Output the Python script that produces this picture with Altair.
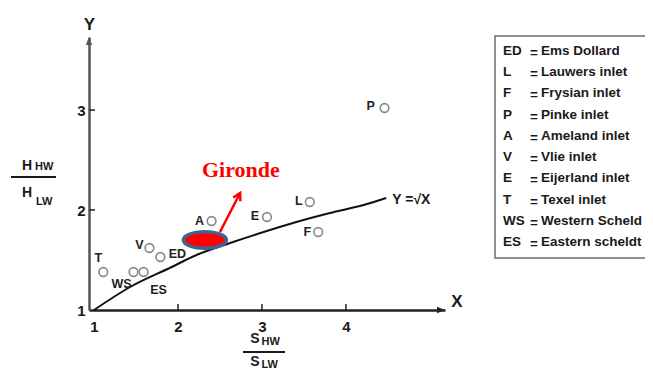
import altair as alt
import pandas as pd

# ---------------- data ----------------
inlet_code = ["T", "WS", "ES", "V", "ED", "A", "E", "L", "F", "P"]
inlet_s_ratio = [1.11, 1.47, 1.59, 1.66, 1.79, 2.40, 3.06, 3.57, 3.67, 4.46]
inlet_h_ratio = [1.38, 1.38, 1.38, 1.62, 1.53, 1.89, 1.93, 2.08, 1.78, 3.02]

curve_s = [1.00, 1.43, 1.90, 2.22, 2.62, 3.02, 3.41, 3.81, 4.21, 4.48]
curve_h = [1.00, 1.23, 1.42, 1.55, 1.67, 1.78, 1.88, 1.97, 2.05, 2.12]
curve_label = "Y =√X"

gironde_name = ["Gironde"]
gironde_s = [2.32]
gironde_h = [1.70]
arrow_start = [2.50, 1.78]
arrow_end = [2.74, 2.17]

x_tick_values = [1, 2, 3, 4]
y_tick_values = [1, 2, 3]

x_letter = "X"
y_letter = "Y"
y_title_top = ["H", "HW"]
y_title_bottom = ["H", "LW"]
x_title_top = ["S", "HW"]
x_title_bottom = ["S", "LW"]

legend_code = ["ED", "L", "F", "P", "A", "V", "E", "T", "WS", "ES"]
legend_name = ["Ems Dollard", "Lauwers inlet", "Frysian inlet", "Pinke inlet",
               "Ameland inlet", "Vlie inlet", "Eijerland inlet", "Texel inlet",
               "Western Scheld", "Eastern scheldt"]

# ---------------- styling ----------------
W, H = 356, 273
FONT = "Liberation Sans"
INK = "#1a1a1a"
xs = alt.Scale(domain=[0.94, 5.18], nice=False, zero=False)
ys = alt.Scale(domain=[1.0, 3.73], nice=False, zero=False)

x_axis = alt.Axis(values=x_tick_values, title=None, grid=False, ticks=False, tickSize=0,
                  labelFont=FONT, labelFontSize=15, labelFontWeight="bold",
                  labelColor=INK, labelPadding=21, labelBaseline="alphabetic",
                  labelFlush=False, labelOverlap=False, labelBound=False,
                  domainColor="#222222", domainWidth=2.5)
y_axis = alt.Axis(values=y_tick_values, title=None, grid=False, ticks=False, tickSize=0,
                  labelFont=FONT, labelFontSize=15, labelFontWeight="bold",
                  labelColor=INK, labelPadding=4, labelFlush=False,
                  labelOverlap=False, labelBound=False,
                  domainColor="#555555", domainWidth=2.5)


def X(f):
    return alt.X(f"{f}:Q", scale=xs, axis=x_axis)


def Y(f):
    return alt.Y(f"{f}:Q", scale=ys, axis=y_axis)


def label(text, x, y, size, align="center", baseline="middle", font=FONT,
          weight="bold", color=INK):
    return alt.Chart(pd.DataFrame({"t": [text]})).mark_text(
        align=align, baseline=baseline, font=font, fontSize=size,
        fontWeight=weight, color=color
    ).encode(x=alt.value(x), y=alt.value(y), text="t:N")


# curve
curve_df = pd.DataFrame({"s": curve_s, "h": curve_h})
curve = alt.Chart(curve_df).mark_line(color="#111111", strokeWidth=2,
                                      interpolate="monotone").encode(
    x=X("s"), y=Y("h"))
curve_end = alt.Chart(curve_df.tail(1).assign(t=curve_label)).mark_text(
    align="left", baseline="middle", dx=6, dy=2, font=FONT, fontSize=14,
    fontWeight="bold", color=INK
).encode(x=X("s"), y=Y("h"), text="t:N")

# inward ticks
x_ticks = alt.Chart(pd.DataFrame({"v": x_tick_values[1:]})).mark_rule(
    color="#222222", strokeWidth=1.5
).encode(x=X("v"), y=alt.value(H - 6), y2=alt.value(H))
y_ticks = alt.Chart(pd.DataFrame({"v": y_tick_values[1:]})).mark_rule(
    color="#222222", strokeWidth=1.5
).encode(y=Y("v"), x=alt.value(0), x2=alt.value(6))

# axis arrowheads
ARROW = "M0,0L-0.4,1L0.4,1Z"
one = pd.DataFrame({"k": [0]})
x_arrow = alt.Chart(one).mark_point(shape=ARROW, size=256, filled=True, color="#222222",
                                    opacity=1, angle=90).encode(
    x=alt.value(W), y=alt.value(H))
y_arrow = alt.Chart(one).mark_point(shape=ARROW, size=256, filled=True, color="#555555",
                                    opacity=1, angle=0).encode(
    x=alt.value(0), y=alt.value(0))

# inlets
pts = pd.DataFrame({"code": inlet_code, "s": inlet_s_ratio, "h": inlet_h_ratio})
circles = alt.Chart(pts).mark_point(shape="circle", size=75, filled=False,
                                    color="#8a8a8a", strokeWidth=1.6, opacity=1).encode(
    x=X("s"), y=Y("h"))
offsets = {"T": (-5, -14), "WS": (-12, 12), "ES": (15, 18), "V": (-10, -3),
           "ED": (17, -3), "A": (-12, 0), "E": (-12, -1), "L": (-11, -1),
           "F": (-11, 0), "P": (-14, -2)}
point_labels = []
for code, (dx, dy) in offsets.items():
    point_labels.append(
        alt.Chart(pts).transform_filter(alt.datum.code == code).mark_text(
            dx=dx, dy=dy, align="center", baseline="middle", font=FONT,
            fontSize=12.5, fontWeight="bold", color="#222222"
        ).encode(x=X("s"), y=Y("h"), text="code:N")
    )

# Gironde
ELLIPSE = ("M-1,0C-1,-0.21,-0.552,-0.38,0,-0.38C0.552,-0.38,1,-0.21,1,0"
           "C1,0.21,0.552,0.38,0,0.38C-0.552,0.38,-1,0.21,-1,0Z")
g_df = pd.DataFrame({"name": gironde_name, "s": gironde_s, "h": gironde_h})
ellipse = alt.Chart(g_df).mark_point(shape=ELLIPSE, size=1849, filled=True,
                                     fill="#ff0000", stroke="#41628f", strokeWidth=3.5,
                                     opacity=1).encode(x=X("s"), y=Y("h"))
g_text = alt.Chart(g_df).mark_text(dx=36, dy=-70, align="center", baseline="middle",
                                   font="Liberation Serif", fontSize=22,
                                   fontWeight="bold", color="#ff0000").encode(
    x=X("s"), y=Y("h"), text="name:N")
arr_df = pd.DataFrame({"s": [arrow_start[0]], "h": [arrow_start[1]],
                       "s2": [arrow_end[0]], "h2": [arrow_end[1]]})
arrow = alt.Chart(arr_df).mark_rule(color="#ff0000", strokeWidth=2.5).encode(
    x=X("s"), y=Y("h"), x2="s2:Q", y2="h2:Q")
CHEVRON = "M-0.45,0.8L0,0L0.45,0.8"
arrow_head = alt.Chart(arr_df).mark_point(shape=CHEVRON, size=324, filled=False,
                                          color="#ff0000", strokeWidth=2.5, angle=27.5,
                                          opacity=1).encode(x=X("s2"), y=Y("h2"))

# axis letters and fraction titles
annot = [
    label(y_letter, 0.5, -12.5, 17),
    label(x_letter, 368, 265, 17),
    label(y_title_top[0], -62, 133, 14, baseline="alphabetic"),
    label(y_title_top[1], -54, 133, 11, align="left", baseline="alphabetic"),
    label(y_title_bottom[0], -62, 160, 14, baseline="alphabetic"),
    label(y_title_bottom[1], -53, 168, 11, align="left", baseline="alphabetic"),
    label(x_title_top[0], 166, 306, 14, baseline="alphabetic"),
    label(x_title_top[1], 172.5, 308, 11, align="left", baseline="alphabetic"),
    label(x_title_bottom[0], 166, 329, 14, baseline="alphabetic"),
    label(x_title_bottom[1], 172.5, 331, 11, align="left", baseline="alphabetic"),
    alt.Chart(one).mark_rule(color=INK, strokeWidth=2).encode(
        x=alt.value(-78), x2=alt.value(-33), y=alt.value(140)),
    alt.Chart(one).mark_rule(color=INK, strokeWidth=2).encode(
        x=alt.value(154), x2=alt.value(196), y=alt.value(315)),
]

main = alt.layer(curve, x_ticks, y_ticks, x_arrow, y_arrow, circles, *point_labels,
                 ellipse, arrow, arrow_head, g_text, curve_end, *annot)

# legend box
leg_df = pd.DataFrame({"code": legend_code, "name": legend_name,
                       "eq": ["="] * len(legend_code)})
ly = alt.Y("code:N", sort=legend_code,
           scale=alt.Scale(type="point", range=[14, 205], padding=0), axis=None)
box = alt.Chart(one).mark_rect(fill="white", stroke="#6b6b6b", strokeWidth=1.5).encode(
    x=alt.value(406), x2=alt.value(700), y=alt.value(-1), y2=alt.value(221))
leg_code = alt.Chart(leg_df).mark_text(align="left", baseline="middle", font=FONT,
                                       fontSize=13.5, fontWeight="bold", color=INK).encode(
    x=alt.value(414), y=ly, text="code:N")
leg_eq = alt.Chart(leg_df).mark_text(align="center", baseline="middle", dy=2, font=FONT,
                                     fontSize=13.5, fontWeight="bold", color=INK).encode(
    x=alt.value(445), y=ly, text="eq:N")
leg_name = alt.Chart(leg_df).mark_text(align="left", baseline="middle", font=FONT,
                                       fontSize=13.5, fontWeight="bold", color=INK).encode(
    x=alt.value(452), y=ly, text="name:N")
legend = alt.layer(box, leg_code, leg_eq, leg_name)

chart = alt.layer(main, legend).resolve_scale(y="independent").properties(
    width=W, height=H,
    padding={"left": 81, "top": 29, "right": 200, "bottom": 63},
    autosize=alt.AutoSizeParams(type="none"),
    background="white",
).configure_view(stroke=None)

chart.save("out.html", embed_options={"renderer": "svg", "actions": False})
